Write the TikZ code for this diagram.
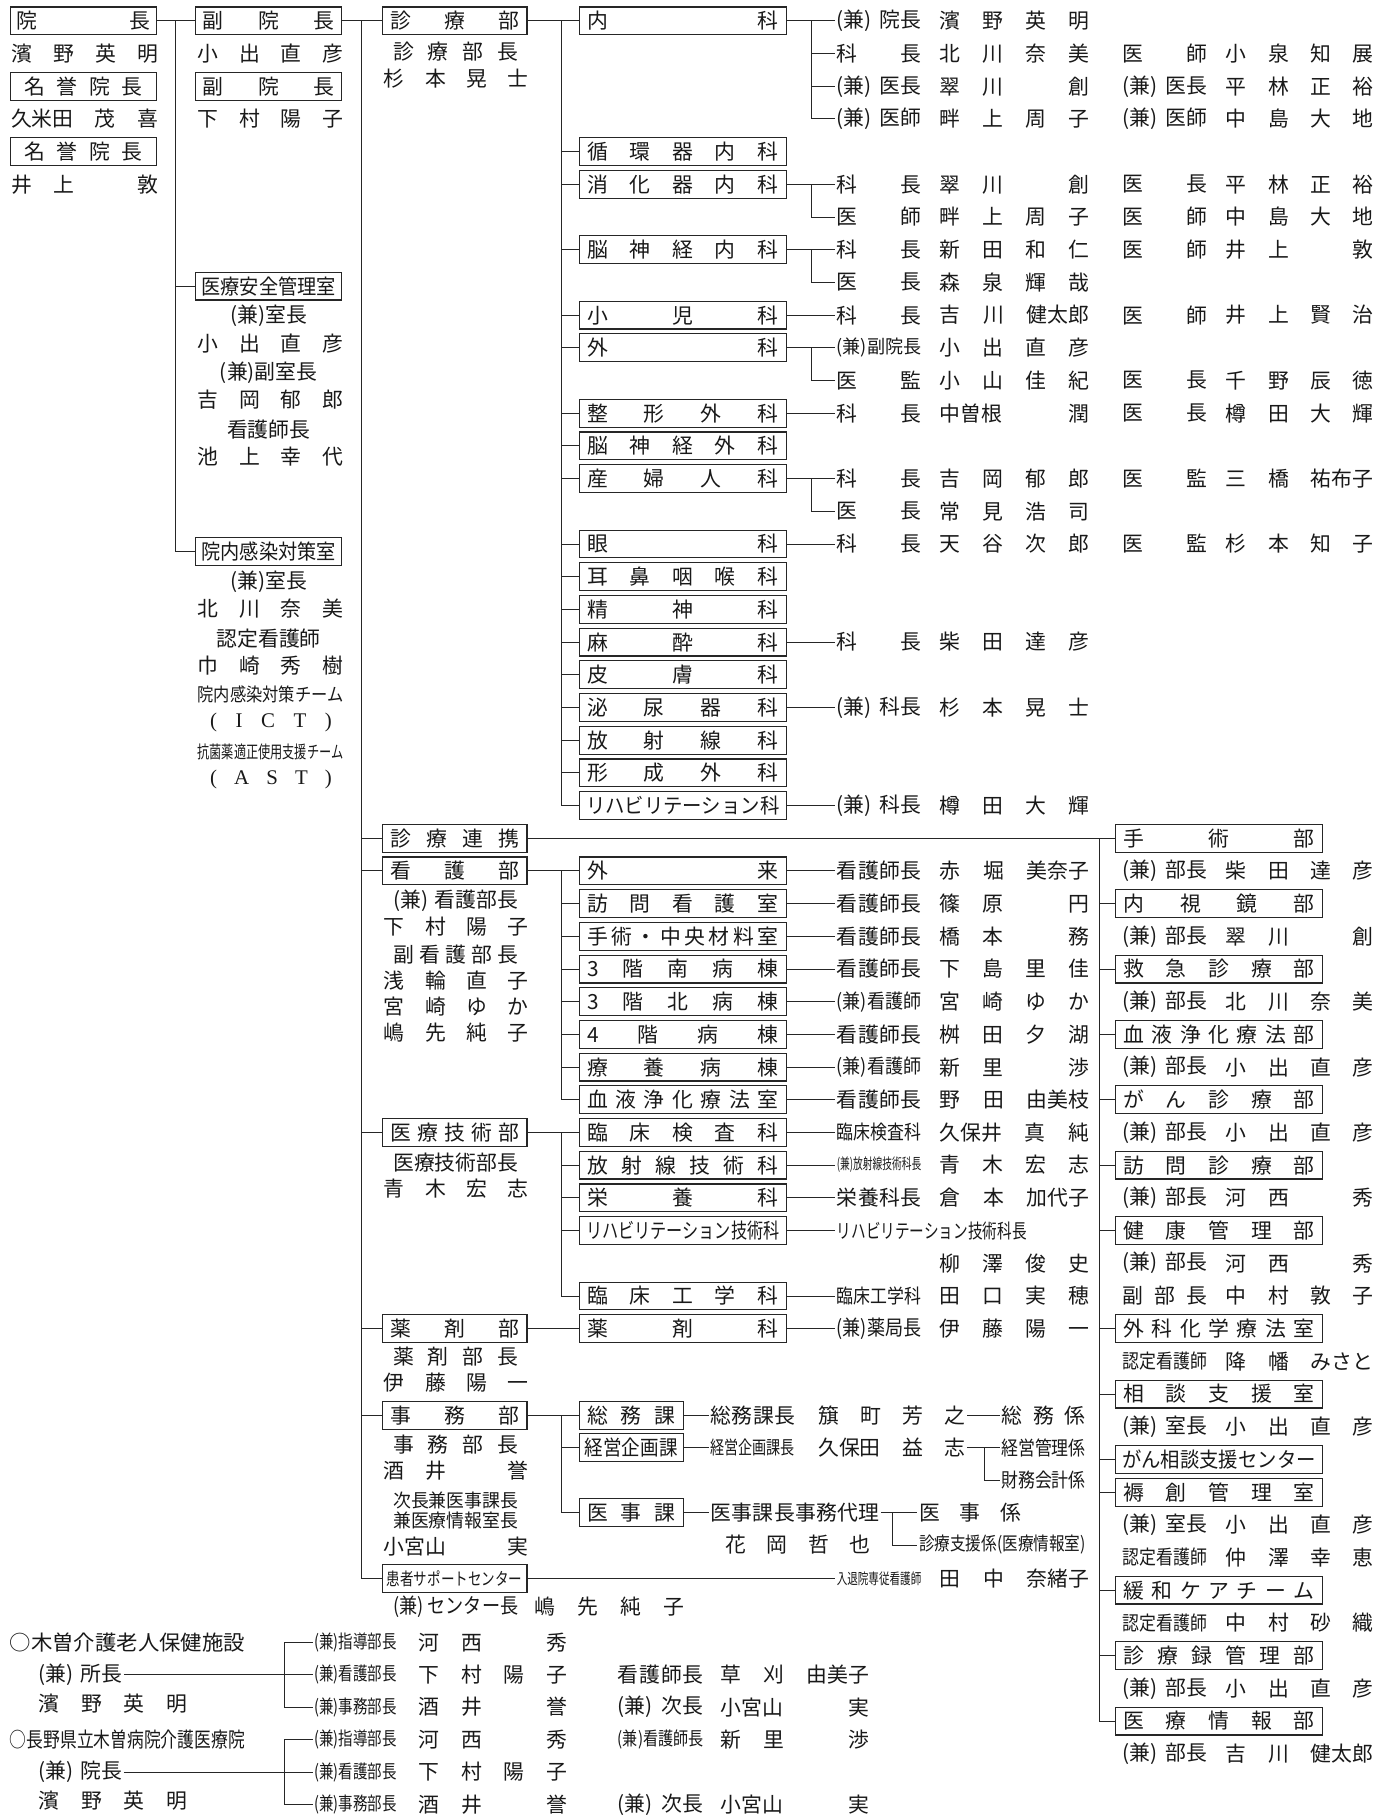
\documentclass[tikz,border=0pt]{standalone}
\usepackage{fontspec}
\setmainfont{Noto Sans CJK JP}
\newfontfamily\lserif{Liberation Serif}
\usepackage{graphicx}
\makeatletter
\def\sprd#1#2{\hbox to #1pt{\sprd@first#2\sprd@end}}
\def\sprd@first#1{#1\sprd@rest}
\def\sprd@rest#1{\def\sprd@tmp{#1}\ifx\sprd@tmp\sprd@endm\else\hfil#1\expandafter\sprd@rest\fi}
\def\sprd@endm{\sprd@end}
\makeatother
\newcommand\kuu{\hbox to 1em{}}
\newlength\fitl
\newcommand\fitw[2]{\settowidth\fitl{#2}\pgfmathsetmacro\fitr{(#1)/\fitl}\scalebox{\fitr}[1]{#2}}
\newcommand\tS[5]{\node[tx,anchor=west] (#1) at (#2,#3) {\sprd{#4}{#5}};}
\newcommand\tF[6]{\node[tx,anchor=west,font=\fontsize{#5}{#5}\selectfont] (#1) at (#2,#3) {\fitw{#4}{#6}};}
\newcommand\tC[4]{\node[tx] (#1) at (#2,#3) {#4};}
\newcommand\bS[6]{\node[bx,minimum width={#3-#2}] (#1) at ({(#2+#3)/2},#4) {\sprd{\fpeval{#3-#2-2*(#5)}}{#6}};}
\newcommand\bF[7]{\node[bx,minimum width={#3-#2},font=\fontsize{#6}{#6}\selectfont] (#1) at ({(#2+#3)/2},#4) {\fitw{#3-#2-2*(#5)}{#7}};}
\newcommand\pr[4]{\tS{pa#1}{721}{#2}{73}{#3}\tS{pb#1}{810}{#2}{129}{#4}}
\newcommand\prr[6]{\pr{#1}{#2}{#3}{#4}\tS{pc#1}{968}{#2}{73}{#5}\tS{pd#1}{1057}{#2}{127}{#6}}
\newcommand\qr[4]{\tS{qa#1}{968}{#2}{73}{#3}\tS{qb#1}{1057}{#2}{127}{#4}}
\begin{document}
\begin{tikzpicture}[x=1pt,y=-1pt,
 tx/.style={inner sep=0pt,outer sep=1.5pt,font=\fontsize{18}{18}\selectfont,text=black!90,execute at begin node={\vphantom{国}}},
 bx/.style={draw=black!85,line width=1pt,minimum height=24pt,inner sep=0pt,font=\fontsize{18}{18}\selectfont,text=black!90,execute at begin node={\vphantom{国}}},
 ln/.style={draw=black!85,line width=0.8pt}]
\useasboundingbox (0,0) rectangle (1201,1568);
\fill[white] (0,0) rectangle (1201,1568);
% ---- column 1
\bS{inchou}{9}{135}{18}{5}{院長}
\tS{nA1}{8}{46.2}{127}{濱野英明}
\bS{meiyoA}{9}{135}{74.5}{12}{名誉院長}
\tS{nA2}{8}{102.7}{127}{{久米田}茂喜}
\bS{meiyoB}{9}{135}{130.9}{12}{名誉院長}
\tS{nA3}{8}{159.2}{127}{井上\kuu 敦}
% ---- column 2
\bS{fukuA}{169}{295}{18}{6}{副院長}
\tS{nB1}{169}{46.2}{126}{小出直彦}
\bS{fukuB}{169}{295}{74.5}{6}{副院長}
\tS{nB2}{169}{102.7}{126}{下村陽子}
\bF{anzen}{169}{295}{247}{5}{18}{医療安全管理室}
\tC{nB3}{232}{272.5}{(兼)室長}
\tS{nB4}{169}{296.5}{126}{小出直彦}
\tC{nB5}{232}{322}{(兼)副室長}
\tS{nB6}{169}{345.5}{126}{吉岡郁郎}
\tC{nB7}{232}{371}{看護師長}
\tS{nB8}{169}{394.5}{126}{池上幸代}
\bF{kansen}{169}{295}{476}{5}{18}{院内感染対策室}
\tC{nB9}{232}{502}{(兼)室長}
\tS{nB10}{169}{525.5}{126}{北川奈美}
\tC{nB11}{232}{551}{認定看護師}
\tS{nB12}{169}{574.5}{126}{巾崎秀樹}
\tF{nB13}{169}{600}{126}{16}{院内感染対策チーム}
\node[tx,anchor=west] (nB14) at (180,623) {\lserif\sprd{105}{(ICT)}};
\tF{nB15}{169}{649}{126}{15}{抗菌薬適正使用支援チーム}
\node[tx,anchor=west] (nB16) at (180,672) {\lserif\sprd{105}{(AST)}};
% ---- column 3
\bS{shinryo}{330}{455}{18}{7}{診療部}
\tS{nC1}{338}{44.5}{108}{診療部長}
\tS{nC2}{330}{68}{125}{杉本晃士}
\bS{renkei}{330}{455}{723.8}{7}{診療連携}
\bS{kango}{330}{455}{752}{7}{看護部}
\tS{nC3}{338}{778}{108}{{(兼)}{看護部長}}
\tS{nC4}{330}{800}{125}{下村陽子}
\tS{nC5}{338}{824.6}{108}{副看護部長}
\tS{nC6}{330}{847}{125}{浅輪直子}
\tS{nC7}{330}{869.5}{125}{宮崎ゆか}
\tS{nC8}{330}{892}{125}{嶋先純子}
\bS{gijutsu}{330}{455}{977.8}{7}{医療技術部}
\tF{nC9}{338}{1003.5}{108}{18}{医療技術部長}
\tS{nC10}{330}{1026}{125}{青木宏志}
\bS{yakuzai}{330}{455}{1147.2}{7}{薬剤部}
\tS{nC11}{338}{1171.5}{108}{薬剤部長}
\tS{nC12}{330}{1193.5}{125}{伊藤陽一}
\bS{jimu}{330}{455}{1222}{7}{事務部}
\tS{nC13}{338}{1247.5}{108}{事務部長}
\tS{nC14}{330}{1270}{125}{酒井\kuu 誉}
\tF{nC15}{338}{1295.5}{108}{16}{次長兼医事課長}
\tF{nC16}{338}{1312.5}{108}{16}{兼医療情報室長}
\tS{nC17}{330}{1335.5}{125}{{小宮山}実}
\bF{kanja}{330}{455}{1363}{4}{15}{患者サポートセンター}
\tF{nC18}{338}{1387.5}{108}{18}{(兼) センター長}
\tS{nC19}{460}{1387.5}{129}{嶋先純子}
% ---- column 4 departments
\bS{d0}{500}{679}{18}{7}{内科}
\bS{d4}{500}{679}{130.9}{7}{循環器内科}
\bS{d5}{500}{679}{159.2}{7}{消化器内科}
\bS{d7}{500}{679}{215.6}{7}{脳神経内科}
\bS{d9}{500}{679}{272.1}{7}{小児科}
\bS{d10}{500}{679}{300.3}{7}{外科}
\bS{d12}{500}{679}{356.8}{7}{整形外科}
\bS{d13}{500}{679}{385}{7}{脳神経外科}
\bS{d14}{500}{679}{413.2}{7}{産婦人科}
\bS{d16}{500}{679}{469.7}{7}{眼科}
\bS{d17}{500}{679}{497.9}{7}{耳鼻咽喉科}
\bS{d18}{500}{679}{526.1}{7}{精神科}
\bS{d19}{500}{679}{554.4}{7}{麻酔科}
\bS{d20}{500}{679}{582.6}{7}{皮膚科}
\bS{d21}{500}{679}{610.8}{7}{泌尿器科}
\bS{d22}{500}{679}{639.1}{7}{放射線科}
\bS{d23}{500}{679}{667.3}{7}{形成外科}
\bF{d24}{500}{679}{695.5}{6}{18}{リハビリテーション科}
\bS{k26}{500}{679}{752}{7}{外来}
\bS{k27}{500}{679}{780.2}{7}{訪問看護室}
\bS{k28}{500}{679}{808.4}{7}{手術・中央材料室}
\bS{k29}{500}{679}{836.7}{7}{3階南病棟}
\bS{k30}{500}{679}{864.9}{7}{3階北病棟}
\bS{k31}{500}{679}{893.1}{7}{4階病棟}
\bS{k32}{500}{679}{921.4}{7}{療養病棟}
\bS{k33}{500}{679}{949.6}{7}{血液浄化療法室}
\bS{g34}{500}{679}{977.8}{7}{臨床検査科}
\bS{g35}{500}{679}{1006}{7}{放射線技術科}
\bS{g36}{500}{679}{1034.3}{7}{栄養科}
\bF{g37}{500}{679}{1062.5}{6}{18}{リハビリテーション技術科}
\bS{g39}{500}{679}{1119}{7}{臨床工学科}
\bS{y40}{500}{679}{1147.2}{7}{薬剤科}
\bS{s1}{500}{590}{1222}{7}{総務課}
\bF{s2}{500}{590}{1250}{5}{18}{経営企画課}
\bS{s3}{500}{590}{1306}{7}{医事課}
% ---- staff rows
\pr{0}{18}{{(兼)}{院長}}{濱野英明}
\prr{1}{46.2}{科長}{北川奈美}{医師}{小泉知展}
\prr{2}{74.5}{{(兼)}{医長}}{翠川\kuu 創}{{(兼)}{医長}}{平林正裕}
\prr{3}{102.7}{{(兼)}{医師}}{畔上周子}{{(兼)}{医師}}{中島大地}
\prr{5}{159.2}{科長}{翠川\kuu 創}{医長}{平林正裕}
\prr{6}{187.4}{医師}{畔上周子}{医師}{中島大地}
\prr{7}{215.6}{科長}{新田和仁}{医師}{井上\kuu 敦}
\pr{8}{243.8}{医長}{森泉輝哉}
\prr{9}{272.1}{科長}{吉川{健太郎}}{医師}{井上賢治}
\tF{pa10}{721}{300.3}{73}{16}{(兼)副院長}\tS{pb10}{810}{300.3}{129}{小出直彦}
\prr{11}{328.5}{医監}{小山佳紀}{医長}{千野辰徳}
\prr{12}{356.8}{科長}{{中曽根}潤}{医長}{樽田大輝}
\prr{14}{413.2}{科長}{吉岡郁郎}{医監}{三橋{祐布子}}
\pr{15}{441.5}{医長}{常見浩司}
\prr{16}{469.7}{科長}{天谷次郎}{医監}{杉本知子}
\pr{19}{554.4}{科長}{柴田達彦}
\pr{21}{610.8}{{(兼)}{科長}}{杉本晃士}
\pr{24}{695.5}{{(兼)}{科長}}{樽田大輝}
\pr{26}{752}{看護師長}{赤堀{美奈子}}
\pr{27}{780.2}{看護師長}{篠原\kuu 円}
\pr{28}{808.4}{看護師長}{橋本\kuu 務}
\pr{29}{836.7}{看護師長}{下島里佳}
\tF{pa30}{721}{864.9}{73}{17}{(兼)看護師}\tS{pb30}{810}{864.9}{129}{宮崎ゆか}
\pr{31}{893.1}{看護師長}{桝田夕湖}
\tF{pa32}{721}{921.4}{73}{17}{(兼)看護師}\tS{pb32}{810}{921.4}{129}{新里\kuu 渉}
\pr{33}{949.6}{看護師長}{野田{由美枝}}
\tF{pa34}{721}{977.8}{73}{17}{臨床検査科}\tS{pb34}{810}{977.8}{129}{{久保井}真純}
\tF{pa35}{721}{1006}{73}{13}{(兼)放射線技術科長}\tS{pb35}{810}{1006}{129}{青木宏志}
\pr{36}{1034.3}{栄養科長}{倉本{加代子}}
\tF{pa37}{721}{1062.5}{164}{17}{リハビリテーション技術科長}
\tS{pb38}{810}{1090.7}{129}{柳澤俊史}
\tF{pa39}{721}{1119}{73}{17}{臨床工学科}\tS{pb39}{810}{1119}{129}{田口実穂}
\tF{pa40}{721}{1147.2}{73}{18}{(兼)薬局長}\tS{pb40}{810}{1147.2}{129}{伊藤陽一}
% ---- 事務部 details
\tS{ja1}{612}{1222}{73}{総務課長}
\tS{ja2}{705}{1222}{127}{簱町芳之}
\tS{ja3}{863}{1222}{73}{総務係}
\tF{jb1}{612}{1250}{73}{16}{経営企画課長}
\tS{jb2}{705}{1250}{127}{{久保田}益志}
\tF{jb3}{863}{1250}{73}{17}{経営管理係}
\tF{jb4}{863}{1278}{73}{17}{財務会計係}
\tS{jc1}{612}{1306}{146}{医事課長事務代理}
\tS{jc3}{792}{1306}{88}{医事係}
\tF{jc4}{792}{1334}{144}{16}{診療支援係(医療情報室)}
\tS{jc2}{625}{1334}{125}{花岡哲也}
\tF{ka1}{721}{1363}{73}{13}{入退院専従看護師}
\tS{ka2}{810}{1363}{129}{田中{奈緒子}}
% ---- right column
\bS{r25}{963}{1142}{723.8}{7}{手術部}
\bS{r27}{963}{1142}{780.2}{7}{内視鏡部}
\bS{r29}{963}{1142}{836.7}{7}{救急診療部}
\bS{r31}{963}{1142}{893.1}{7}{血液浄化療法部}
\bS{r33}{963}{1142}{949.6}{7}{がん診療部}
\bS{r35}{963}{1142}{1006}{7}{訪問診療部}
\bS{r37}{963}{1142}{1062.5}{7}{健康管理部}
\bS{r40}{963}{1142}{1147.2}{7}{外科化学療法室}
\bS{r42}{963}{1142}{1203.7}{7}{相談支援室}
\bF{r44}{963}{1142}{1260.1}{6}{18}{がん相談支援センター}
\bS{r45}{963}{1142}{1288.4}{7}{褥創管理室}
\bS{r48}{963}{1142}{1373}{7}{緩和ケアチーム}
\bS{r50}{963}{1142}{1429.5}{7}{診療録管理部}
\bS{r52}{963}{1142}{1486}{7}{医療情報部}
\qr{26}{752}{{(兼)}{部長}}{柴田達彦}
\qr{28}{808.4}{{(兼)}{部長}}{翠川\kuu 創}
\qr{30}{864.9}{{(兼)}{部長}}{北川奈美}
\qr{32}{921.4}{{(兼)}{部長}}{小出直彦}
\qr{34}{977.8}{{(兼)}{部長}}{小出直彦}
\qr{36}{1034.3}{{(兼)}{部長}}{河西\kuu 秀}
\qr{38}{1090.7}{{(兼)}{部長}}{河西\kuu 秀}
\qr{39}{1119}{副部長}{中村敦子}
\tF{qa41}{968}{1175.4}{73}{17}{認定看護師}\tS{qb41}{1057}{1175.4}{127}{降幡{みさと}}
\qr{43}{1231.9}{{(兼)}{室長}}{小出直彦}
\qr{46}{1316.6}{{(兼)}{室長}}{小出直彦}
\tF{qa47}{968}{1344.8}{73}{17}{認定看護師}\tS{qb47}{1057}{1344.8}{127}{仲澤幸恵}
\tF{qa49}{968}{1401.3}{73}{17}{認定看護師}\tS{qb49}{1057}{1401.3}{127}{中村砂織}
\qr{51}{1457.7}{{(兼)}{部長}}{小出直彦}
\qr{53}{1514.2}{{(兼)}{部長}}{吉川{健太郎}}
% ---- bottom facilities
\tF{f1}{7}{1418.5}{203}{18}{○木曽介護老人保健施設}
\tS{f2}{32}{1446}{72}{{(兼)}{所長}}
\tS{f3}{32}{1471}{128}{濱野英明}
\tF{fb1}{270}{1418.5}{71}{16}{(兼)指導部長}
\tF{fb2}{270}{1446}{71}{16}{(兼)看護部長}
\tF{fb3}{270}{1474}{71}{16}{(兼)事務部長}
\tS{fn1}{360}{1418.5}{128}{河西\kuu 秀}
\tS{fn2}{360}{1446}{128}{下村陽子}
\tS{fn3}{360}{1474}{128}{酒井\kuu 誉}
\tS{fx2}{532}{1446}{74}{看護師長}
\tS{fy2}{621}{1446}{128}{草刈{由美子}}
\tS{fx3}{532}{1474}{74}{{(兼)}{次長}}
\tS{fy3}{621}{1474}{128}{{小宮山}実}
\tF{h1}{7}{1502}{203}{18}{○長野県立木曽病院介護医療院}
\tS{h2}{32}{1530}{72}{{(兼)}{院長}}
\tS{h3}{32}{1555}{128}{濱野英明}
\tF{hb1}{270}{1502}{71}{16}{(兼)指導部長}
\tF{hb2}{270}{1530}{71}{16}{(兼)看護部長}
\tF{hb3}{270}{1558}{71}{16}{(兼)事務部長}
\tS{hn1}{360}{1502}{128}{河西\kuu 秀}
\tS{hn2}{360}{1530}{128}{下村陽子}
\tS{hn3}{360}{1558}{128}{酒井\kuu 誉}
\tF{hx1}{532}{1502}{74}{16}{(兼)看護師長}
\tS{hy1}{621}{1502}{128}{新里\kuu 渉}
\tS{hx3}{532}{1558}{74}{{(兼)}{次長}}
\tS{hy3}{621}{1558}{128}{{小宮山}実}
% ================= connectors
\draw[ln] (inchou.east) -- (fukuA.west);
\coordinate (v0) at ([xshift=-17pt]fukuA.west);
\draw[ln] (v0) |- (kansen.west);
\draw[ln] (v0 |- anzen.west) -- (anzen.west);
\draw[ln] (fukuA.east) -- (shinryo.west);
\coordinate (v1) at ([xshift=-17pt]shinryo.west);
\draw[ln] (v1) |- (kanja.west);
\foreach \n in {renkei,kango,gijutsu,yakuzai,jimu} \draw[ln] (v1 |- \n.west) -- (\n.west);
\draw[ln] (shinryo.east) -- (d0.west);
\coordinate (v2) at ([xshift=-15pt]d0.west);
\draw[ln] (v2) |- (d24.west);
\foreach \n in {4,5,7,9,10,12,13,14,16,17,18,19,20,21,22,23} \draw[ln] (v2 |- d\n.west) -- (d\n.west);
\draw[ln] (kango.east) -- (k26.west);
\coordinate (v3) at ([xshift=-15pt]k26.west);
\draw[ln] (v3) |- (k33.west);
\foreach \n in {27,28,29,30,31,32} \draw[ln] (v3 |- k\n.west) -- (k\n.west);
\draw[ln] (gijutsu.east) -- (g34.west);
\coordinate (v4) at ([xshift=-15pt]g34.west);
\draw[ln] (v4) |- (g39.west);
\foreach \n in {35,36,37} \draw[ln] (v4 |- g\n.west) -- (g\n.west);
\draw[ln] (yakuzai.east) -- (y40.west);
\draw[ln] (jimu.east) -- (s1.west);
\coordinate (v5) at ([xshift=-15pt]s1.west);
\draw[ln] (v5) |- (s3.west);
\draw[ln] (v5 |- s2.west) -- (s2.west);
\draw[ln] (kanja.east) -- (ka1.west);
\draw[ln] (renkei.east) -- (r25.west);
\coordinate (v6) at ([xshift=-13pt]r25.west);
\draw[ln] (v6) |- (r52.west);
\foreach \n in {27,29,31,33,35,37,40,42,44,45,48,50} \draw[ln] (v6 |- r\n.west) -- (r\n.west);
% department to staff
\foreach \n in {9,12,16,19,21,24} \draw[ln] (d\n.east) -- (pa\n.west);
\foreach \d/\a/\b in {0/0/3,5/5/6,7/7/8,10/10/11,14/14/15}{
  \draw[ln] (d\d.east) -- (pa\a.west);
  \coordinate (jj) at ([xshift=21pt]d\d.east);
  \draw[ln] (jj) |- (pa\b.west);
}
\coordinate (j0) at ([xshift=21pt]d0.east);
\draw[ln] (j0 |- pa1.west) -- (pa1.west);
\draw[ln] (j0 |- pa2.west) -- (pa2.west);
\foreach \n in {26,27,28,29,30,31,32,33} \draw[ln] (k\n.east) -- (pa\n.west);
\foreach \n in {34,35,36,37,39} \draw[ln] (g\n.east) -- (pa\n.west);
\draw[ln] (y40.east) -- (pa40.west);
% 事務部 sections
\draw[ln] (s1.east) -- (ja1.west);
\draw[ln] (ja2.east) -- (ja3.west);
\draw[ln] (s2.east) -- (jb1.west);
\draw[ln] (jb2.east) -- (jb3.west);
\coordinate (jbj) at ([xshift=15pt]jb2.east);
\draw[ln] (jbj) |- (jb4.west);
\draw[ln] (s3.east) -- (jc1.west);
\draw[ln] (jc1.east) -- (jc3.west);
\coordinate (jcj) at ([xshift=10pt]jc1.east);
\draw[ln] (jcj) |- (jc4.west);
% facilities
\draw[ln] (f2.east) -- (fb2.west);
\coordinate (fj) at ([xshift=-24pt]fb2.west);
\draw[ln] (fb1.west) -| (fj) |- (fb3.west);
\draw[ln] (h2.east) -- (hb2.west);
\coordinate (hj) at ([xshift=-24pt]hb2.west);
\draw[ln] (hb1.west) -| (hj) |- (hb3.west);
\end{tikzpicture}
\end{document}
